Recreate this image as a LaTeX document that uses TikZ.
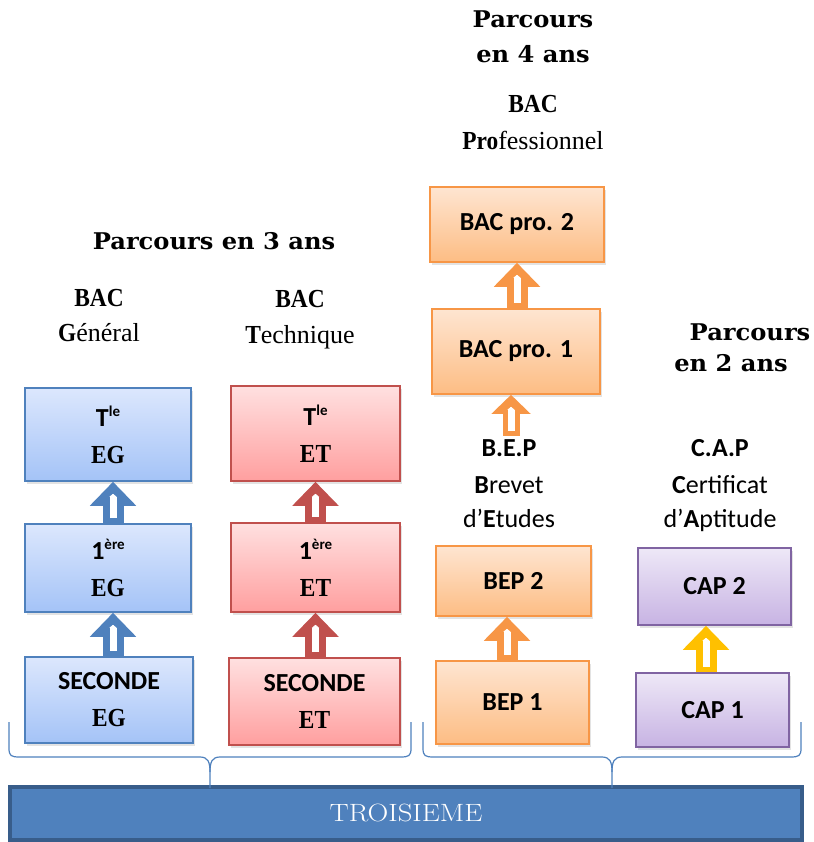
\documentclass[tikz,border=0pt]{standalone}
\usepackage{fontspec}
\setsansfont{Carlito}
\newfontfamily\headfont{DejaVu Serif Bold}[FakeStretch=1.05]
\newfontfamily\seriffont{Liberation Serif}
\usetikzlibrary{arrows.meta, shadows}

\definecolor{egLine}{HTML}{4F81BD}
\definecolor{egTop}{HTML}{DCE7FD}
\definecolor{egBot}{HTML}{A4C3F7}
\definecolor{etLine}{HTML}{C0504D}
\definecolor{etTop}{HTML}{FFE0E0}
\definecolor{etBot}{HTML}{FF9F9F}
\definecolor{proLine}{HTML}{F79646}
\definecolor{proTop}{HTML}{FEE5D1}
\definecolor{proBot}{HTML}{FDBD84}
\definecolor{capLine}{HTML}{8064A2}
\definecolor{capTop}{HTML}{EEE8F7}
\definecolor{capBot}{HTML}{C7B3E3}
\definecolor{capArrow}{HTML}{FFC000}
\definecolor{barFill}{HTML}{4F81BD}
\definecolor{barLine}{HTML}{385D8A}

\newcommand\rang[1]{\raisebox{10pt}{\fontsize{15}{15}\selectfont #1}}
\newcommand\gras[1]{\scalebox{.9}[1]{\seriffont\bfseries #1}}

\tikzset{
  box/.style={draw, line width=1.6pt, inner sep=0pt, align=center,
    font=\sffamily\fontsize{26}{37}\selectfont\bfseries,
    drop shadow={opacity=.22, shadow xshift=1.5pt, shadow yshift=-3pt}},
  egbox/.style={box, draw=egLine, top color=egTop, bottom color=egBot},
  etbox/.style={box, draw=etLine, top color=etTop, bottom color=etBot},
  probox/.style={box, draw=proLine, top color=proTop, bottom color=proBot},
  capbox/.style={box, draw=capLine, top color=capTop, bottom color=capBot},
  titre/.style={anchor=base, font=\headfont\fontsize{23}{26}\selectfont},
  bac/.style={anchor=base, font=\seriffont\fontsize{26}{30}\selectfont},
  sigle/.style={anchor=base, font=\sffamily\fontsize{26}{30}\selectfont},
  flow/.style={line width=21pt, -{Triangle[width=45pt, length=24pt]}},
  flowsmall/.style={line width=17pt, -{Triangle[width=38pt, length=19pt]}},
  core/.style={white, line width=7pt, -{Triangle[width=7pt, length=3pt]},
    shorten <=5pt, shorten >=12pt},
  accolade/.style={draw=egLine, line width=1.2pt},
}

\begin{document}
\begin{tikzpicture}[x=1pt, y=-1pt]
  \useasboundingbox (0,0) rectangle (813,842);

  % -- titres
  \node[titre] (p4a) at (533,28) {Parcours};
  \node[titre] (p4b) at (533,63) {en 4 ans};
  \node[titre] (p3) at (214,249) {Parcours en 3 ans};
  \node[titre] (p2a) at (750,340) {Parcours};
  \node[titre] (p2b) at (731,371) {en 2 ans};

  \node[bac] (bacP) at (533,113) {\gras{BAC}};
  \node[bac] (proP) at (533,150) {\gras{Pro}fessionnel};
  \node[bac] (bacG) at (99,306) {\gras{BAC}};
  \node[bac] (genG) at (99,341) {\gras{G}énéral};
  \node[bac] (bacT) at (300,307) {\gras{BAC}};
  \node[bac] (tecT) at (300,343) {\gras{T}echnique};

  \node[sigle] (bep) at (509,456) {\textbf{B.E.P}};
  \node[sigle] (bepB) at (509,493) {\textbf{B}revet};
  \node[sigle] (bepE) at (509,527) {d’\textbf{E}tudes};
  \node[sigle] (cap) at (720,456) {\textbf{C.A.P}};
  \node[sigle] (capC) at (720,493) {\textbf{C}ertificat};
  \node[sigle] (capA) at (720,527) {d’\textbf{A}ptitude};

  % -- classes
  \node[egbox, minimum width=166pt, minimum height=93pt] (tEG) at (108,434.5) {T\rang{le}\\\gras{EG}};
  \node[egbox, minimum width=166pt, minimum height=88pt] (pEG) at (108,568) {1\rang{ère}\\\gras{EG}};
  \node[egbox, minimum width=168pt, minimum height=86pt] (sEG) at (109,700) {SECONDE\\\gras{EG}};
  \node[etbox, minimum width=169pt, minimum height=95pt] (tET) at (315.5,433.5) {T\rang{le}\\\gras{ET}};
  \node[etbox, minimum width=169pt, minimum height=89pt] (pET) at (315.5,567.5) {1\rang{ère}\\\gras{ET}};
  \node[etbox, minimum width=171pt, minimum height=87pt] (sET) at (314.5,701.5) {SECONDE\\\gras{ET}};

  \node[probox, minimum width=174pt, minimum height=75pt] (bacpro2) at (517,224.5) {BAC pro. 2};
  \node[probox, minimum width=168pt, minimum height=85pt] (bacpro1) at (516,351.5) {BAC pro. 1};
  \node[probox, minimum width=155pt, minimum height=70pt] (bep2) at (513.5,581) {BEP 2};
  \node[probox, minimum width=153pt, minimum height=83pt] (bep1) at (512.5,702.5) {BEP 1};
  \node[capbox, minimum width=153pt, minimum height=77pt] (cap2) at (714.5,586.5) {CAP 2};
  \node[capbox, minimum width=153pt, minimum height=74pt] (cap1) at (712.5,710) {CAP 1};

  % -- fleches
  \foreach \a/\b/\s/\c/\f in {sEG/pEG/4/egLine/flow, pEG/tEG/5/egLine/flow,
      sET/pET/1/etLine/flow, pET/tET/0/etLine/flow,
      bep1/bep2/-5.5/proLine/flow, bep/bacpro1/2/proLine/flowsmall,
      bacpro1/bacpro2/1/proLine/flow, cap1/cap2/-6.5/capArrow/flow} {
    \draw[\f, \c] ([xshift=\s pt]\a.north) -- ([xshift=\s pt]\a.north |- \b.south);
    \draw[core] ([xshift=\s pt]\a.north) -- ([xshift=\s pt]\a.north |- \b.south);
  }

  % -- troisieme
  \node[draw=barLine, fill=barFill, line width=4pt, minimum width=792pt,
    minimum height=53pt, inner sep=0pt, text=white,
    font=\rmfamily\fontsize{25}{30}\selectfont] (troisieme) at (406,813)
    {\scalebox{1.15}[1]{TROISIEME}};

  \draw[accolade] (9,722) -- (9,748) .. controls (9,756) and (11,757) .. (20,757)
    -- (200,757) .. controls (208,757) and (210,762) .. (210,772) -- (210,788);
  \draw[accolade] (411,722) -- (411,748) .. controls (411,756) and (409,757) .. (400,757)
    -- (220,757) .. controls (212,757) and (210,762) .. (210,772);
  \draw[accolade] (423,722) -- (423,748) .. controls (423,756) and (425,757) .. (434,757)
    -- (602,757) .. controls (610,757) and (612,762) .. (612,772) -- (612,788);
  \draw[accolade] (801,722) -- (801,748) .. controls (801,756) and (799,757) .. (790,757)
    -- (622,757) .. controls (614,757) and (612,762) .. (612,772);

\end{tikzpicture}
\end{document}
